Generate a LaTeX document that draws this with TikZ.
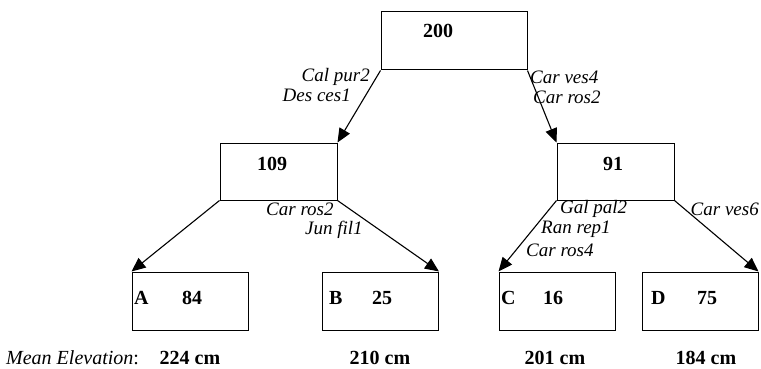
\documentclass[tikz,border=0pt]{standalone}
\usepackage{fontspec}
\setmainfont{Liberation Serif}
\usetikzlibrary{arrows.meta}
\begin{document}
\begin{tikzpicture}[x=1pt,y=-1pt,
  box/.style={draw,line width=1pt,minimum width=117pt,minimum height=57pt,inner sep=0pt},
  num/.style={font=\fontsize{20}{24}\selectfont\bfseries,inner sep=0pt},
  split/.style={font=\fontsize{19}{23}\selectfont\itshape,inner sep=0pt},
  foot/.style={font=\fontsize{20}{24}\selectfont,inner sep=0pt},
  edge/.style={line width=1.1pt,-{Triangle[length=14pt,width=12pt]}}]
\useasboundingbox (0,0) rectangle (761,369);

% tree boxes
\node[box,minimum width=146pt,minimum height=58pt] (root) at (454,41) {};
\node[box] (left) at (278.5,171.5) {};
\node[box] (right) at (615.5,171.5) {};
\node[box,minimum width=116pt,minimum height=58pt] (A) at (190,301) {};
\node[box,minimum width=116pt,minimum height=58pt] (B) at (380.5,301) {};
\node[box,minimum width=116pt,minimum height=58pt] (C) at (557,301) {};
\node[box,minimum width=116pt,minimum height=58pt] (D) at (700,301) {};

% group sizes
\node[num] (nroot) at (438,31) {200};
\node[num] (nleft) at (272,163.5) {109};
\node[num] (nright) at (613,163.5) {91};
\node[num,anchor=west] (la) at (134,298) {A};
\node[num] (na) at (192,298) {84};
\node[num,anchor=west] (lb) at (329,298) {B};
\node[num] (nb) at (382,298) {25};
\node[num,anchor=west] (lc) at (501,298) {C};
\node[num] (nc) at (553,298) {16};
\node[num,anchor=west] (ld) at (651,298) {D};
\node[num] (nd) at (707,298) {75};

% splits
\draw[edge] (root.south west) -- (left.north east);
\draw[edge] (root.south east) -- (right.north west);
\draw[edge] (left.south west) -- (A.north west);
\draw[edge] (left.south east) -- (B.north east);
\draw[edge] (right.south west) -- (C.north west);
\draw[edge] (right.south east) -- (D.north east);

% indicator species
\node[split,anchor=east] (s1) at (370,77) {Cal pur2};
\node[split,anchor=east] (s2) at (351,95) {Des ces1};
\node[split,anchor=west] (s3) at (530,77) {Car ves4};
\node[split,anchor=west] (s4) at (533,97) {Car ros2};
\node[split,anchor=west] (s5) at (266,209) {Car ros2};
\node[split,anchor=west] (s6) at (305,230) {Jun fil1};
\node[split,anchor=west] (s7) at (560,209) {Gal pal2};
\node[split,anchor=west] (s8) at (541,229) {Ran rep1};
\node[split,anchor=west] (s9) at (526,250) {Car ros4};
\node[split,anchor=east] (s10) at (759,209) {Car ves6};

% elevations
\node[foot,anchor=west] (me) at (6,358) {\itshape Mean Elevation\upshape:};
\node[foot,font=\fontsize{20}{24}\selectfont\bfseries] (ea) at (190,358) {224 cm};
\node[foot,font=\fontsize{20}{24}\selectfont\bfseries] (eb) at (380,358) {210 cm};
\node[foot,font=\fontsize{20}{24}\selectfont\bfseries] (ec) at (555,358) {201 cm};
\node[foot,font=\fontsize{20}{24}\selectfont\bfseries] (ed) at (706,358) {184 cm};
\end{tikzpicture}
\end{document}
